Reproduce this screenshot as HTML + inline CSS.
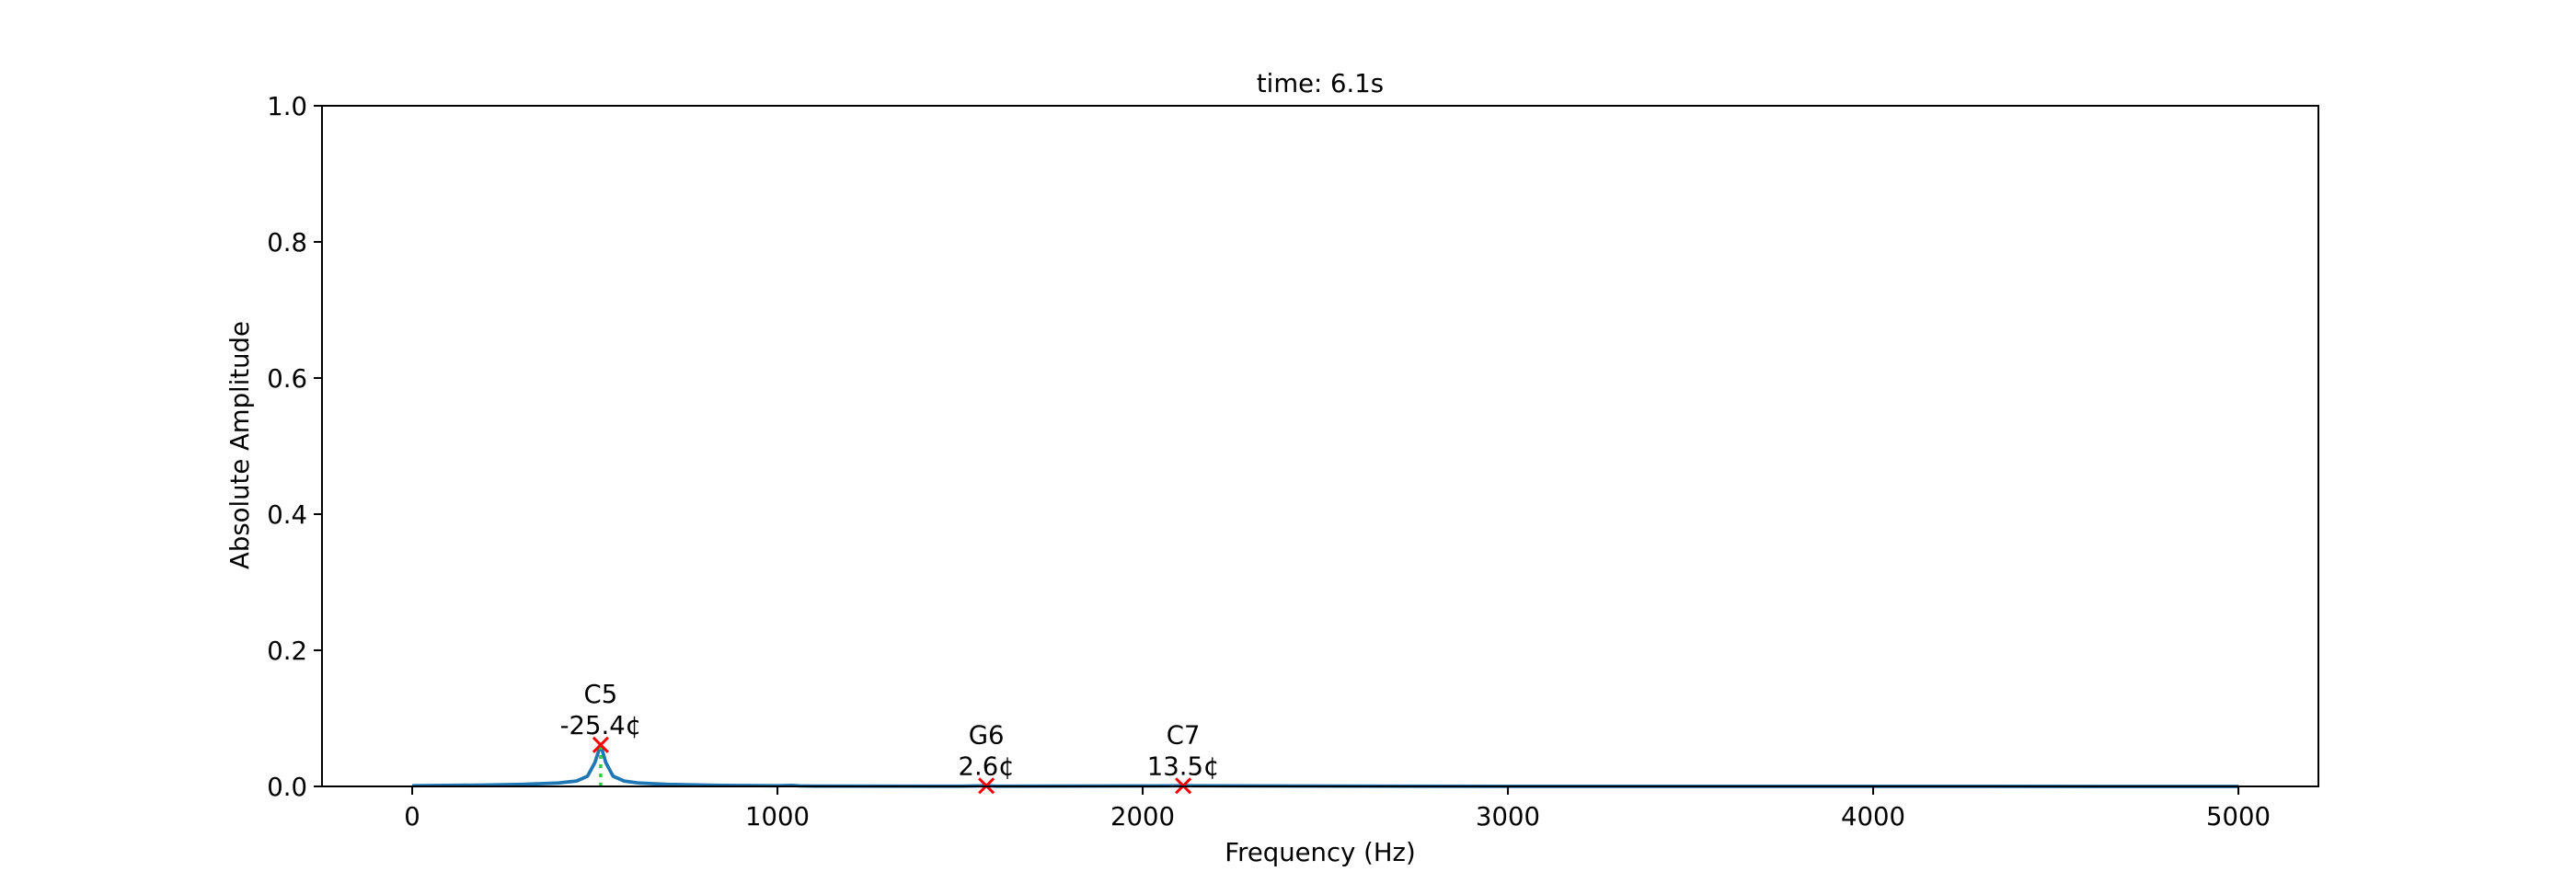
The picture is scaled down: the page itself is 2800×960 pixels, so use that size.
<!DOCTYPE html>
<html><head><meta charset="utf-8"><style>
html,body{margin:0;padding:0;background:#fff;}
svg{display:block;font-family:"DejaVu Sans","Liberation Sans",sans-serif;}
</style></head><body>
<svg id="chart" width="2800" height="960" viewBox="0 0 2800 960"></svg>
<script>
const freqs = [0, 200, 300, 400, 450, 480, 500, 516, 530, 550, 580, 620, 700, 850, 1000, 1040, 1060, 1100, 1500, 1572, 1600, 2111, 3000, 4000, 5000];
const amps  = [0.001, 0.002, 0.003, 0.005, 0.008, 0.015, 0.035, 0.061, 0.035, 0.015, 0.008, 0.005, 0.003, 0.0015, 0.001, 0.0015, 0.0008, 0.0005, 0.0003, 0.001, 0.0003, 0.001, 0.0002, 0.0001, 0];
const peakFreqs = [516, 1572, 2111];
const peakAmps = [0.061, 0.001, 0.001];
const peakNotes = ["C5", "G6", "C7"];
const peakCents = ["-25.4¢", "2.6¢", "13.5¢"];
const xTicks = [0, 1000, 2000, 3000, 4000, 5000];
const yTicks = [0.0, 0.2, 0.4, 0.6, 0.8, 1.0];

const L=350,R=2520,T=115,B=855;
const xMin=-247,xMax=5219;
const X=v=>L+(v-xMin)/(xMax-xMin)*(R-L);
const Y=v=>B-v*(B-T);
const svg=document.getElementById('chart');
const NS='http://www.w3.org/2000/svg';
function mk(tag,attrs,parent){const e=document.createElementNS(NS,tag);for(const k in attrs)e.setAttribute(k,attrs[k]);(parent||svg).appendChild(e);return e;}
function txt(s,x,y,anchor,size,parent){const t=mk('text',{x:x,y:y,'text-anchor':anchor,'font-size':size,fill:'#000'},parent);t.textContent=s;return t;}

let d='';freqs.forEach((f,i)=>{d+=(i?'L':'M')+X(f).toFixed(1)+','+Y(amps[i]).toFixed(1);});
const line=mk('path',{d:d,fill:'none',stroke:'#1f77b4','stroke-width':3.75,'stroke-linejoin':'round'});



peakFreqs.forEach((f,i)=>{
  const g=mk('g',{});
  
  
  const px=X(f),py=Y(peakAmps[i]);
  mk('line',{x1:px,y1:B,x2:px,y2:py,stroke:'#2ecc40','stroke-width':3.5,'stroke-dasharray':'4,6'},g);
  mk('path',{d:`M${px-8},${py-8}L${px+8},${py+8}M${px-8},${py+8}L${px+8},${py-8}`,stroke:'red','stroke-width':3},g);
  txt(peakNotes[i],px,py-46,'middle',27.5,g);
  txt(peakCents[i],px,py-12,'middle',27.5,g);
});

const frame=mk('rect',{x:L,y:T,width:R-L,height:B-T,fill:'none',stroke:'#000','stroke-width':2});



xTicks.forEach(v=>{
  const g=mk('g',{});
  
  
  mk('line',{x1:X(v),y1:B,x2:X(v),y2:B+9,stroke:'#000','stroke-width':2},g);
  txt(String(v),X(v),B+42,'middle',27.5,g);
});
yTicks.forEach(v=>{
  const g=mk('g',{});
  
  
  mk('line',{x1:L-9,y1:Y(v),x2:L,y2:Y(v),stroke:'#000','stroke-width':2},g);
  txt(v.toFixed(1),L-16,Y(v)+10,'end',27.5,g);
});
</script>
<div style="position:absolute;left:0;top:0;width:2800px;height:960px;pointer-events:none;font-family:'DejaVu Sans','Liberation Sans',sans-serif;">
  <div style="position:absolute;left:1235px;width:400px;top:75px;text-align:center;font-size:27.5px;">time: 6.1s</div>
  <div style="position:absolute;left:1235px;width:400px;top:911px;text-align:center;font-size:27.5px;">Frequency (Hz)</div>
  <div style="position:absolute;left:61px;width:400px;top:468px;text-align:center;font-size:27.5px;transform:rotate(-90deg);">Absolute Amplitude</div>
</div>
</body></html>
